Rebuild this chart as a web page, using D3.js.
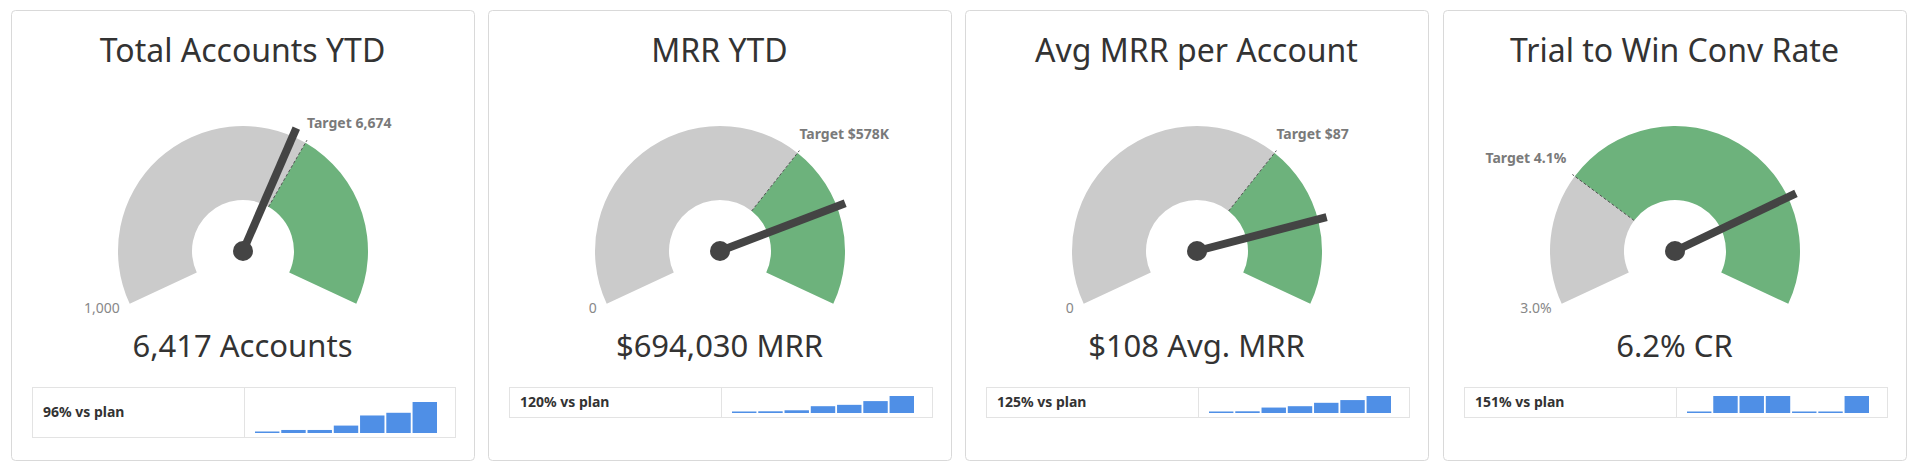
<!DOCTYPE html>
<html><head><meta charset="utf-8">
<script src="https://cdn.jsdelivr.net/npm/d3@7"></script>
<style>body{margin:0;background:#fff;font-family:"Noto Sans",sans-serif;}</style>
</head><body><svg id="c" width="1920" height="468"></svg>
<script>
const titles = ["Total Accounts YTD","MRR YTD","Avg MRR per Account","Trial to Win Conv Rate"];
const valueLabels = ["6,417 Accounts","$694,030 MRR","$108 Avg. MRR","6.2% CR"];
const values = [6417, 694030, 108, 6.2];
const targets = [6674, 578000, 87, 4.1];
const targetLabels = ["Target 6,674","Target $578K","Target $87","Target 4.1%"];
const mins = [1000, 0, 0, 3.0];
const minLabels = ["1,000","0","0","3.0%"];
const maxs = [10000, 867000, 130.5, 7.1];
const planLabels = ["96% vs plan","120% vs plan","125% vs plan","151% vs plan"];
const spark1 = [2, 9, 9, 22, 52, 60, 92];
const spark2 = [2, 5, 8, 20, 24, 35, 50];
const spark3 = [2, 5, 16, 20, 30, 38, 50];
const spark4 = [0, 50, 50, 50, 0, 0, 50];
const sparks = [spark1, spark2, spark3, spark4];

const svg = d3.select("#c");
const panelX = [11, 488, 965, 1443];
const PW = 463, PH = 450, PY = 10;
const A = 115 * Math.PI / 180;
const rO = 125, rI = 51;

titles.forEach((t, i) => {
  const g = svg.append("g").attr("transform", `translate(${panelX[i]},${PY})`);
  g.append("rect").attr("x",0.5).attr("y",0.5).attr("width",PW).attr("height",PH)
    .attr("rx",4).attr("fill","#fff").attr("stroke","#d9d9d9");
  g.append("text").attr("x",PW/2).attr("y",52).attr("text-anchor","middle")
    .attr("font-size",32).attr("fill","#333").text(t);

  const cx = 232, cy = 241;
  const gg = g.append("g").attr("transform",`translate(${cx},${cy})`);
  const ang = d3.scaleLinear().domain([mins[i], maxs[i]]).range([-A, A]).clamp(true);
  const arc = d3.arc().innerRadius(rI).outerRadius(rO);
  const ta = ang(targets[i]);
  gg.append("path").attr("d", arc({startAngle:-A, endAngle:ta})).attr("fill","#cbcbcb");
  gg.append("path").attr("d", arc({startAngle:ta, endAngle:A})).attr("fill","#6db27c");
  const pt = (r, a) => [r*Math.sin(a), -r*Math.cos(a)];
  const [ix, iy] = pt(rI, ta), [ox, oy] = pt(rO+3, ta);
  gg.append("line").attr("x1",ix).attr("y1",iy).attr("x2",ox).attr("y2",oy)
    .attr("stroke","#555").attr("stroke-width",1).attr("stroke-dasharray","3,2");
  gg.append("text").attr("x", ox + (ta>=0?0:-6)).attr("y", oy-12)
    .attr("text-anchor", ta>=0?"start":"end").attr("font-size",14).attr("font-weight","bold")
    .attr("fill","#7a7a7a").text(targetLabels[i]);
  const [mx, my] = pt(rO, -A);
  gg.append("text").attr("x", mx-10).attr("y", my+9).attr("text-anchor","end")
    .attr("font-size",14).attr("fill","#888").text(minLabels[i]);
  const va = ang(values[i]);
  const [nx, ny] = pt(134, va);
  gg.append("line").attr("x1",0).attr("y1",0).attr("x2",nx).attr("y2",ny)
    .attr("stroke","#444").attr("stroke-width",8);
  gg.append("circle").attr("r",10).attr("fill","#444");

  g.append("text").attr("x",PW/2).attr("y",347).attr("text-anchor","middle")
    .attr("font-size",31).attr("fill","#333").text(valueLabels[i]);

  const bh = i===0 ? 50 : 30;
  const by = 377;
  g.append("rect").attr("x",21.5).attr("y",by+0.5).attr("width",423).attr("height",bh)
    .attr("fill","#fff").attr("stroke","#e3e3e3");
  g.append("line").attr("x1",233.5).attr("x2",233.5).attr("y1",by).attr("y2",by+bh).attr("stroke","#e3e3e3");
  g.append("text").attr("x",32).attr("y",by+bh/2+5).attr("font-size",14).attr("font-weight","bold")
    .attr("fill","#333").text(planLabels[i]);

  const data = sparks[i];
  const bottom = by + bh - 4, maxH = bh - 19 + (i===0?0:6);
  const x = d3.scaleBand().domain(d3.range(data.length)).range([244, 426]).paddingInner(0.07);
  const y = d3.scaleLinear().domain([0, d3.max(data)]).range([0, maxH]);
  g.selectAll(".b").data(data).join("rect")
    .attr("x",(d,j)=>x(j)).attr("width",x.bandwidth())
    .attr("y",d=>bottom-Math.max(y(d),1.5)).attr("height",d=>Math.max(y(d),1.5))
    .attr("fill","#4f8fe6");
});
</script></body></html>
